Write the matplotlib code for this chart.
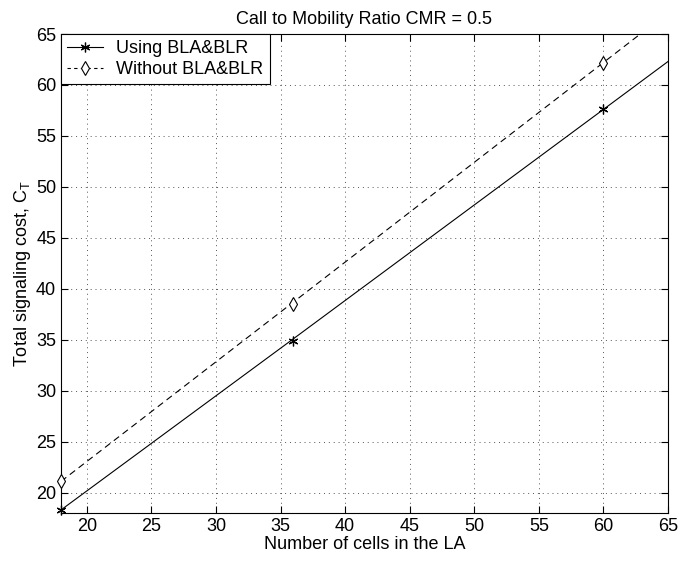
import numpy as np
import matplotlib
matplotlib.use("Agg")
import matplotlib.pyplot as plt

plt.rcParams['font.family'] = ['Liberation Sans', 'DejaVu Sans']
plt.rcParams['mathtext.fontset'] = 'custom'
plt.rcParams['mathtext.rm'] = 'Liberation Sans'
plt.rcParams['mathtext.it'] = 'Liberation Sans'

# cells in the LA where the markers sit
cells = [18, 36, 60]
using_bla = [18.3, 34.9, 57.6]
without_bla = [21.1, 38.5, 62.2]

# line runs on to the right edge of the axes
line_cells = [18, 36, 60, 65]
using_line = [18.3, 35.1, 57.6, 62.3]
without_line = [21.1, 38.7, 62.2, 67.1]

xticks = [20, 25, 30, 35, 40, 45, 50, 55, 60, 65]
yticks = [20, 25, 30, 35, 40, 45, 50, 55, 60, 65]

fs = 13

fig = plt.figure(figsize=(6.92, 5.62), dpi=100)
ax = fig.add_axes([61/692, 1 - 513/562, (668-61)/692, (513-34)/562])

ax.plot(line_cells, using_line, color='black', lw=0.8, ls='-')
ax.plot(line_cells, without_line, color='black', lw=0.8, ls=(0, (6, 4)))
ax.plot(cells, using_bla, ls='none', marker=(6, 2, 0), ms=7, mec='black', mew=0.9,
        clip_on=False, zorder=3)
ax.plot(cells, without_bla, ls='none', marker='d', ms=7, mfc='white', mec='black', mew=0.8,
        clip_on=False, zorder=3)

# legend proxies: line with marker in the middle
h1, = ax.plot([], [], color='black', lw=0.8, ls='-', marker=(6, 2, 0), ms=7, mew=0.9)
h2, = ax.plot([], [], color='black', lw=0.8, ls=(0, (3, 3)), marker='d', ms=7,
              mfc='white', mec='black', mew=0.8)
leg = ax.legend([h1, h2], ['Using BLA&BLR', 'Without BLA&BLR'], loc='upper left',
                fontsize=fs, borderaxespad=0, fancybox=False, framealpha=1,
                edgecolor='black', handlelength=2.0, borderpad=0.35, labelspacing=0.2,
                handletextpad=0.7)
leg.get_frame().set_linewidth(0.8)

ax.set_xlim(18, 65)
ax.set_ylim(18, 65)
ax.set_xticks(xticks)
ax.set_yticks(yticks)
ax.grid(True, color='#555555', ls=(0, (1, 4)), lw=0.7)
ax.tick_params(direction='in', top=True, right=True, length=5, labelsize=fs, width=0.8)
for s in ax.spines.values():
    s.set_linewidth(0.8)

ax.set_title('Call to Mobility Ratio CMR = 0.5', fontsize=fs, pad=7)
ax.set_xlabel('Number of cells in the LA', fontsize=fs, labelpad=1)
ax.set_ylabel(r'Total signaling cost, C$_\mathregular{T}$', fontsize=fs, labelpad=2)

fig.savefig('out.png', dpi=100)
